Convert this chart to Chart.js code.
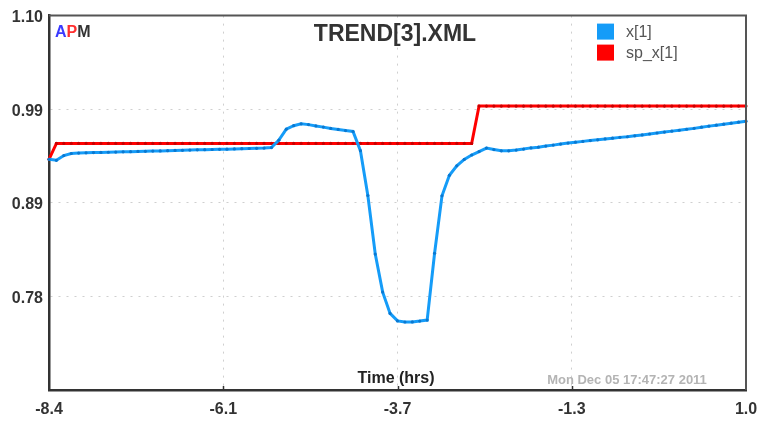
<!DOCTYPE html>
<html>
<head>
<meta charset="utf-8">
<script src="https://cdn.jsdelivr.net/npm/chart.js@4.4.1/dist/chart.umd.min.js"></script>
<style>
  html, body { margin: 0; padding: 0; background: #fff; }
  #trend { display: block; }
</style>
</head>
<body>
<canvas id="trend" width="757" height="422"></canvas>
<script>
// time axis (hrs), one sample every 0.1 hr
const timeHrs = [
  -8.4, -8.3, -8.2, -8.1, -8.0, -7.9, -7.8, -7.7, -7.6, -7.5,
  -7.4, -7.3, -7.2, -7.1, -7.0, -6.9, -6.8, -6.7, -6.6, -6.5,
  -6.4, -6.3, -6.2, -6.1, -6.0, -5.9, -5.8, -5.7, -5.6, -5.5,
  -5.4, -5.3, -5.2, -5.1, -5.0, -4.9, -4.8, -4.7, -4.6, -4.5,
  -4.4, -4.3, -4.2, -4.1, -4.0, -3.9, -3.8, -3.7, -3.6, -3.5,
  -3.4, -3.3, -3.2, -3.1, -3.0, -2.9, -2.8, -2.7, -2.6, -2.5,
  -2.4, -2.3, -2.2, -2.1, -2.0, -1.9, -1.8, -1.7, -1.6, -1.5,
  -1.4, -1.3, -1.2, -1.1, -1.0, -0.9, -0.8, -0.7, -0.6, -0.5,
  -0.4, -0.3, -0.2, -0.1, 0.0, 0.1, 0.2, 0.3, 0.4, 0.5,
  0.6, 0.7, 0.8, 0.9, 1.0
];

// x[1] measured value
const x1Values = [
  0.9388, 0.9377, 0.9430, 0.9453, 0.9458, 0.9461, 0.9463, 0.9465, 0.9467, 0.9469,
  0.9472, 0.9474, 0.9476, 0.9478, 0.9480, 0.9482, 0.9485, 0.9487, 0.9489, 0.9491,
  0.9494, 0.9496, 0.9498, 0.9500, 0.9502, 0.9504, 0.9507, 0.9509, 0.9511, 0.9514,
  0.9520, 0.9603, 0.9726, 0.9765, 0.9786, 0.9777, 0.9762, 0.9749, 0.9734, 0.9723,
  0.9710, 0.9700, 0.9485, 0.8982, 0.8325, 0.7898, 0.7659, 0.7575, 0.7563, 0.7564,
  0.7573, 0.7584, 0.8334, 0.8978, 0.9208, 0.9315, 0.9387, 0.9436, 0.9475, 0.9514,
  0.9497, 0.9483, 0.9483, 0.9492, 0.9503, 0.9516, 0.9524, 0.9536, 0.9547, 0.9559,
  0.9570, 0.9580, 0.9589, 0.9598, 0.9607, 0.9616, 0.9625, 0.9634, 0.9641, 0.9651,
  0.9661, 0.9672, 0.9683, 0.9693, 0.9704, 0.9714, 0.9725, 0.9735, 0.9748, 0.9760,
  0.9771, 0.9782, 0.9793, 0.9804, 0.9816
];

// sp_x[1] setpoint
const spValues = [
  0.9388, 0.9566, 0.9566, 0.9566, 0.9566, 0.9566, 0.9566, 0.9566, 0.9566, 0.9566,
  0.9566, 0.9566, 0.9566, 0.9566, 0.9566, 0.9566, 0.9566, 0.9566, 0.9566, 0.9566,
  0.9566, 0.9566, 0.9566, 0.9566, 0.9566, 0.9566, 0.9566, 0.9566, 0.9566, 0.9566,
  0.9566, 0.9566, 0.9566, 0.9566, 0.9566, 0.9566, 0.9566, 0.9566, 0.9566, 0.9566,
  0.9566, 0.9566, 0.9566, 0.9566, 0.9566, 0.9566, 0.9566, 0.9566, 0.9566, 0.9566,
  0.9566, 0.9566, 0.9566, 0.9566, 0.9566, 0.9566, 0.9566, 0.9566, 0.9985, 0.9985,
  0.9985, 0.9985, 0.9985, 0.9985, 0.9985, 0.9985, 0.9985, 0.9985, 0.9985, 0.9985,
  0.9985, 0.9985, 0.9985, 0.9985, 0.9985, 0.9985, 0.9985, 0.9985, 0.9985, 0.9985,
  0.9985, 0.9985, 0.9985, 0.9985, 0.9985, 0.9985, 0.9985, 0.9985, 0.9985, 0.9985,
  0.9985, 0.9985, 0.9985, 0.9985, 0.9985
];

const xTickValues = [-8.4, -6.05, -3.7, -1.35, 1.0];
const xTickLabels = ['-8.4', '-6.1', '-3.7', '-1.3', '1.0'];
const yTickValues = [0.68, 0.785, 0.89, 0.995, 1.10];
const yTickLabels = ['', '0.78', '0.89', '0.99', '1.10'];

const seriesNames = ['x[1]', 'sp_x[1]'];
const titleText = 'TREND[3].XML';
const axisTitle = 'Time (hrs)';
const stampText = 'Mon Dec 05 17:47:27 2011';

const FONT = '"Liberation Sans", Arial, sans-serif';
const BLUE = '#159cf8';
const RED = '#ff0000';

function toPoints(vals) {
  return vals.map((v, i) => ({ x: timeHrs[i], y: v }));
}

// frame, title, legend and captions drawn inside the plot area
const decor = {
  id: 'decor',
  afterDraw(chart) {
    const ctx = chart.ctx;
    const a = chart.chartArea;
    const xs = chart.scales.x;
    ctx.save();

    ctx.strokeStyle = '#555';
    ctx.lineWidth = 2;
    ctx.beginPath();
    ctx.moveTo(a.left, a.top);
    ctx.lineTo(a.right, a.top);
    ctx.lineTo(a.right, a.bottom);
    ctx.stroke();

    // small inner ticks on the time axis
    ctx.strokeStyle = '#333';
    ctx.lineWidth = 1.5;
    for (let i = 1; i < xTickValues.length - 1; i++) {
      const px = Math.round(xs.getPixelForValue(xTickValues[i])) + 0.5;
      ctx.beginPath();
      ctx.moveTo(px, a.bottom);
      ctx.lineTo(px, a.bottom - 4);
      ctx.stroke();
    }

    ctx.textBaseline = 'middle';

    ctx.textAlign = 'center';
    ctx.fillStyle = '#333';
    ctx.font = 'bold 23px ' + FONT;
    ctx.fillText(titleText, a.left + 346, a.top + 19);

    // APM logo
    ctx.textAlign = 'left';
    ctx.font = 'bold 16px ' + FONT;
    let lx = a.left + 6;
    const ly = a.top + 17;
    [['A', '#3a3aff'], ['P', '#ff3030'], ['M', '#333']].forEach(p => {
      ctx.fillStyle = p[1];
      ctx.fillText(p[0], lx, ly);
      lx += ctx.measureText(p[0]).width;
    });

    // legend
    const cols = [BLUE, RED];
    ctx.font = '16px ' + FONT;
    for (let i = 0; i < seriesNames.length; i++) {
      const top = a.top + 8 + i * 21;
      ctx.fillStyle = cols[i];
      ctx.fillRect(a.left + 548, top, 17, 16);
      ctx.fillStyle = '#555';
      ctx.fillText(seriesNames[i], a.left + 577, top + 8.5);
    }

    ctx.textAlign = 'center';
    ctx.fillStyle = '#222';
    ctx.font = 'bold 16px ' + FONT;
    ctx.fillText(axisTitle, a.left + 347, a.bottom - 11);

    ctx.fillStyle = '#b4b4b4';
    ctx.font = 'bold 13px ' + FONT;
    ctx.fillText(stampText, a.left + 578, a.bottom - 10);

    ctx.restore();
  }
};

const config = {
  type: 'line',
  data: {
    datasets: [
      {
        label: seriesNames[0],
        data: toPoints(x1Values),
        borderColor: BLUE,
        backgroundColor: '#0a78d0',
        borderWidth: 3,
        pointRadius: 1.6,
        pointBorderWidth: 0,
        tension: 0,
        clip: 4
      },
      {
        label: seriesNames[1],
        data: toPoints(spValues),
        borderColor: RED,
        backgroundColor: '#c80000',
        borderWidth: 3,
        pointRadius: 1.6,
        pointBorderWidth: 0,
        tension: 0,
        clip: 4
      }
    ]
  },
  options: {
    responsive: false,
    animation: false,
    devicePixelRatio: 1,
    layout: { padding: { left: 0, right: 0, top: 14, bottom: 0 } },
    plugins: {
      legend: { display: false },
      title: { display: false },
      tooltip: { enabled: false }
    },
    scales: {
      x: {
        type: 'linear',
        min: -8.4,
        max: 1.0,
        afterBuildTicks: s => { s.ticks = xTickValues.map(v => ({ value: v })); },
        afterFit: s => { s.height = 32; s.paddingLeft = 0; s.paddingRight = 11; },
        ticks: {
          callback: (v, i) => xTickLabels[i],
          color: '#333',
          font: { family: FONT, size: 16, weight: 'bold' },
          padding: 10,
          maxRotation: 0,
          autoSkip: false
        },
        grid: { color: '#cfcfcf', lineWidth: 1, drawTicks: false },
        border: { color: '#333', width: 2.5, dash: [2, 6] }
      },
      y: {
        type: 'linear',
        min: 0.68,
        max: 1.10,
        afterBuildTicks: s => { s.ticks = yTickValues.map(v => ({ value: v })); },
        afterFit: s => { s.width = 49; },
        ticks: {
          callback: (v, i) => yTickLabels[i],
          color: '#333',
          font: { family: FONT, size: 16, weight: 'bold' },
          padding: 6,
          labelOffset: 2,
          autoSkip: false
        },
        grid: { color: '#cfcfcf', lineWidth: 1, drawTicks: false },
        border: { color: '#333', width: 2.5, dash: [2, 6] }
      }
    }
  },
  plugins: [decor]
};

var ctx = document.getElementById('trend').getContext('2d');
var chart = new Chart(ctx, config);
</script>
</body>
</html>
